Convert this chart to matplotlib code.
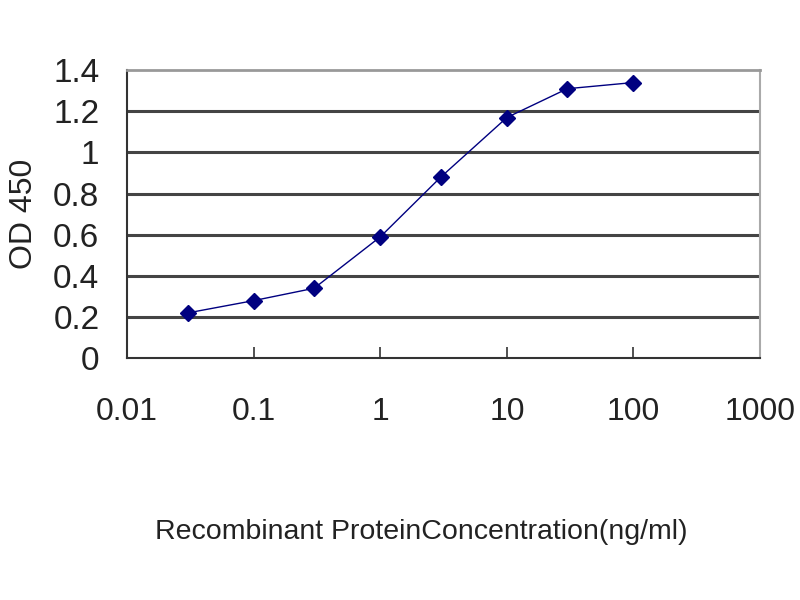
import matplotlib
matplotlib.use('Agg')
import matplotlib.pyplot as plt

# concentrazioni (ng/ml) e letture OD 450
conc = [0.03, 0.1, 0.3, 1, 3, 10, 30, 100]
od450 = [0.22, 0.28, 0.34, 0.59, 0.88, 1.17, 1.31, 1.34]

x_ticks = [0.01, 0.1, 1, 10, 100, 1000]
x_labels = ['0.01', '0.1', '1', '10', '100', '1000']
y_ticks = [0, 0.2, 0.4, 0.6, 0.8, 1.0, 1.2, 1.4]
y_labels = ['0', '0.2', '0.4', '0.6', '0.8', '1', '1.2', '1.4']

plt.rcParams['font.family'] = ['Liberation Sans', 'DejaVu Sans']

fig = plt.figure(figsize=(8, 6), dpi=100)
ax = fig.add_axes([0.159, 0.403, 0.791, 0.480])

ax.plot(conc, od450, color='#000080', linewidth=1, marker='D',
        markersize=8, markerfacecolor='#000080', markeredgecolor='#000080',
        zorder=3, clip_on=False)

ax.set_xscale('log')
ax.set_xlim(0.01, 1000)
ax.set_ylim(0, 1.4)
ax.set_xticks(x_ticks)
ax.set_xticklabels(x_labels)
ax.minorticks_off()
ax.set_yticks(y_ticks)
ax.set_yticklabels(y_labels)

for y in y_ticks[1:-1]:
    ax.axhline(y, color='#444444', linewidth=2.2, zorder=1)

ax.spines['top'].set_color('#999999')
ax.spines['top'].set_linewidth(2)
ax.spines['right'].set_color('#aaaaaa')
ax.spines['right'].set_linewidth(1.5)
ax.spines['left'].set_color('#333333')
ax.spines['left'].set_linewidth(1.5)
ax.spines['bottom'].set_color('#333333')
ax.spines['bottom'].set_linewidth(1.5)

ax.tick_params(axis='x', direction='in', length=8, width=1.2, color='#333333',
               labelsize=23, pad=28, labelcolor='#222222')
ax.tick_params(axis='y', length=0, labelsize=24, pad=20, labelcolor='#222222')

ax.set_ylabel('OD 450', fontsize=23, color='#222222')
ax.yaxis.set_label_coords(-0.14, 0.5)
ax.set_xlabel('Recombinant ProteinConcentration(ng/ml)', fontsize=20.5,
              color='#222222')
ax.xaxis.set_label_coords(0.465, -0.56)

fig.savefig('out.png', dpi=100)
